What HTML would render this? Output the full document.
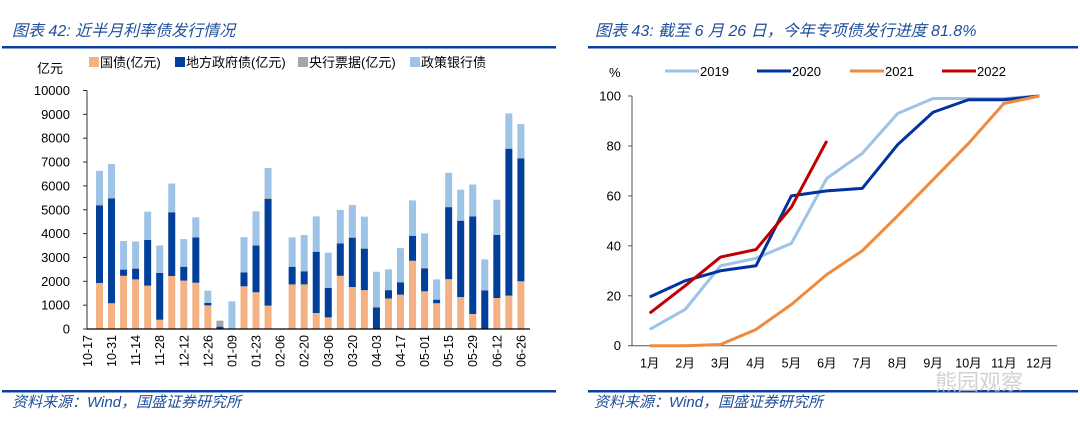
<!DOCTYPE html>
<html><head><meta charset="utf-8"><style>
html,body{margin:0;padding:0;background:#fff;}
svg{display:block;font-family:"Liberation Sans","Noto Sans CJK SC",sans-serif;}
</style></head><body>
<svg id="root" width="1080" height="432" viewBox="0 0 1080 432" xmlns="http://www.w3.org/2000/svg">
<g>
<text x="12" y="36" font-size="16" font-style="italic" fill="#1f4e9a">图表 42:  近半月利率债发行情况</text>
<rect x="2" y="46" width="554" height="2.5" fill="#0b3f9c"/>
</g>
<g>
<text x="595" y="36" font-size="16" font-style="italic" fill="#1f4e9a">图表 43:  截至 6 月 26 日，今年专项债发行进度 81.8%</text>
<rect x="588" y="46" width="490" height="2.5" fill="#0b3f9c"/>
</g>
<rect x="2" y="390" width="554" height="2.5" fill="#0b3f9c"/>
<rect x="588" y="390" width="490" height="2.5" fill="#0b3f9c"/>
<text x="12" y="407" font-size="15" font-style="italic" fill="#1f4e9a">资料来源：Wind，国盛证券研究所</text>
<text x="594" y="407" font-size="15" font-style="italic" fill="#1f4e9a">资料来源：Wind，国盛证券研究所</text>
<text x="935" y="390" font-size="22" fill="#c8c8c8" opacity="0.8">熊园观察</text>

<g id="left"></g>
<g id="right"></g>
</svg>
<script>
// ---- Left chart data (亿元) ----
const barTickLabels = ["10-17","10-31","11-14","11-28","12-12","12-26","01-09","01-23","02-06","02-20","03-06","03-20","04-03","04-17","05-01","05-15","05-29","06-12","06-26"];
const govBond   = [1930,1080,2230,2080,1820,390,2220,2030,1940,990,0,0,1790,1540,980,0,1870,1870,670,490,2230,1760,1630,0,1280,1440,2860,1580,1080,2090,1340,630,0,1300,1400,2000];
const localBond = [3250,4390,260,450,1920,1960,2670,580,1900,100,100,0,580,1960,4470,0,740,550,2570,1230,1360,2070,1740,900,350,520,1050,960,150,3020,3200,4090,1620,2650,6160,5150];
const pbocBill  = [50,50,0,30,0,0,30,0,0,0,250,0,0,0,50,0,0,0,0,0,0,0,0,50,0,0,0,30,0,0,0,0,0,0,0,0];
const policyBank= [1400,1400,1200,1110,1180,1150,1180,1160,840,520,0,1160,1480,1430,1250,0,1230,1520,1480,1480,1400,1370,1340,1450,870,1430,1480,1440,850,1440,1300,1340,1300,1470,1480,1440];
const barYTicks = [0,1000,2000,3000,4000,5000,6000,7000,8000,9000,10000];

// ---- Right chart data (%) ----
const months = ["1月","2月","3月","4月","5月","6月","7月","8月","9月","10月","11月","12月"];
const s2019 = [6.5,14.5,32,35,41,67,77,93,99,99,99,100];
const s2020 = [19.5,26,30,32,60,62,63,80.5,93.5,98.5,98.5,100];
const s2021 = [0,0,0.5,6.5,16.5,28.5,38,52,66.5,81,97,100];
const s2022 = [13,24,35.5,38.5,55.5,82];
const lineYTicks = [0,20,40,60,80,100];

const NS="http://www.w3.org/2000/svg";
function mk(parent,tag,attrs,text){const e=document.createElementNS(NS,tag);for(const k in attrs)e.setAttribute(k,attrs[k]);if(text!==undefined)e.textContent=text;parent.appendChild(e);return e;}

// ---- Left chart ----
const L=document.getElementById('left');
const lx0=87, lxEnd=530, ly0=329, lyTop=90.5, lymax=10000;
const ly=v=>ly0-(v/lymax)*(ly0-lyTop);
const band=12.04, firstC=99.5;
const bx=i=>firstC+band*i;
const barW=7;
const colors=["#f4b183","#003f9a","#a6a6a6","#9dc3e6"];
const names=["国债(亿元)","地方政府债(亿元)","央行票据(亿元)","政策银行债"];
const series=[govBond,localBond,pbocBill,policyBank];
for(let i=0;i<govBond.length;i++){
  let acc=0;
  for(let s=0;s<4;s++){
    const v=series[s][i]; if(!v) continue;
    const r=mk(L,'rect',{x:bx(i)-barW/2,y:ly(acc+v),width:barW,height:ly(acc)-ly(acc+v),fill:colors[s]});
    
    
    acc+=v;
  }
}
let ax=mk(L,'line',{x1:lx0,y1:lyTop,x2:lx0,y2:ly0,stroke:'#333','stroke-width':1});


ax=mk(L,'line',{x1:lx0,y1:ly0,x2:lxEnd,y2:ly0,stroke:'#000','stroke-width':1.2});


barYTicks.forEach(t=>{
  const tk=mk(L,'line',{x1:lx0-4,y1:ly(t),x2:lx0,y2:ly(t),stroke:'#333'});
  
  
  const tl=mk(L,'text',{x:lx0-17,y:ly(t)+4.5,'font-size':13,'text-anchor':'end',fill:'#000'},t);
  
  
});
barTickLabels.forEach((lab,k)=>{
  const x=bx(2*k-1);
  const t=mk(L,'text',{x:0,y:0,'font-size':12.5,'text-anchor':'end',fill:'#000',transform:`translate(${x+4.5},${ly0+6}) rotate(-90)`},lab);
  
  
});
let u=mk(L,'text',{x:37,y:73,'font-size':13,fill:'#000'},"亿元");


const legX=[89,175,298,410];
names.forEach((n,s)=>{
  const g=mk(L,'g',{});
  
  
  mk(g,'rect',{x:legX[s],y:57,width:10,height:10,fill:colors[s]});
  mk(g,'text',{x:legX[s]+11,y:67,'font-size':13,fill:'#000'},n);
});

// ---- Right chart ----
const R=document.getElementById('right');
const rx0=632, rxEnd=1057, ry0=345.7, ryTop=96;
const ry=v=>ry0-(v/100)*(ry0-ryTop);
const rband=(rxEnd-rx0)/12;
const rx=i=>rx0+rband*(i+0.5);
ax=mk(R,'line',{x1:rx0,y1:ryTop,x2:rx0,y2:ry0,stroke:'#555'});


ax=mk(R,'line',{x1:rx0,y1:ry0,x2:rxEnd,y2:ry0,stroke:'#555'});


lineYTicks.forEach(t=>{
  const tk=mk(R,'line',{x1:rx0-4,y1:ry(t),x2:rx0,y2:ry(t),stroke:'#555'});
  
  
  const tl=mk(R,'text',{x:rx0-11,y:ry(t)+4.5,'font-size':13,'text-anchor':'end',fill:'#000'},t);
  
  
});
months.forEach((m,i)=>{
  const t=mk(R,'text',{x:rx(i),y:ry0+22,'font-size':12.5,'text-anchor':'middle',fill:'#000'},m);
  
  
});
u=mk(R,'text',{x:609,y:77,'font-size':13,fill:'#000'},"%");


const lineSeries=[[s2019,'#9dc3e6','2019'],[s2020,'#0033a0','2020'],[s2021,'#f08a3c','2021'],[s2022,'#c00000','2022']];
const lLegX=[665,757,850,942];
lineSeries.forEach(([d,c,n],k)=>{
  const p=mk(R,'polyline',{points:d.map((v,i)=>rx(i)+','+ry(v)).join(' '),fill:'none',stroke:c,'stroke-width':3,'stroke-linejoin':'round'});
  
  
  const g=mk(R,'g',{});
  
  
  mk(g,'line',{x1:lLegX[k],y1:71,x2:lLegX[k]+34,y2:71,stroke:c,'stroke-width':3});
  mk(g,'text',{x:lLegX[k]+35,y:76,'font-size':13,fill:'#000'},n);
});
</script>
</body></html>
